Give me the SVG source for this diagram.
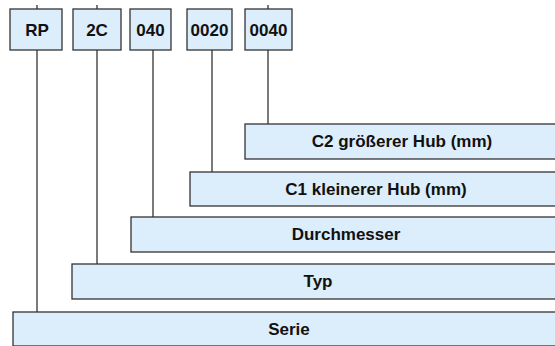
<svg xmlns="http://www.w3.org/2000/svg" width="555" height="346" viewBox="0 0 555 346">
<style>
.box{fill:#dcedfb;stroke:#333;stroke-width:1.3}
.c{fill:none;stroke:#222;stroke-width:1.2}
.t{font-family:"Liberation Sans",Arial,sans-serif;font-weight:bold;fill:#111;text-anchor:middle;dominant-baseline:central}
.s{font-size:17px}
.l{font-size:17px}
</style>
<rect width="555" height="346" fill="#fff"/>
<g id="connectors">
<path class="c" d="M37 5V9M97 5V9M268 5V9"/>
<path class="c" d="M37 50V312"/>
<path class="c" d="M97 50V264"/>
<path class="c" d="M153 50V217"/>
<path class="c" d="M212 50V172"/>
<path class="c" d="M268 50V124"/>
</g>
<g id="rp"><rect class="box" x="10" y="9" width="52" height="41"/><text class="t s" x="37" y="30">RP</text></g>
<g id="2c"><rect class="box" x="73" y="9" width="48" height="41"/><text class="t s" x="97" y="30">2C</text></g>
<g id="040"><rect class="box" x="130" y="9" width="41" height="41"/><text class="t s" x="150.5" y="30">040</text></g>
<g id="0020"><rect class="box" x="187" y="9" width="45" height="41"/><text class="t s" x="209.5" y="30">0020</text></g>
<g id="0040"><rect class="box" x="245" y="9" width="47" height="41"/><text class="t s" x="268.5" y="30">0040</text></g>
<g id="c2"><rect class="box" x="245" y="124" width="320" height="35"/><text class="t l" x="402" y="141.5">C2 größerer Hub (mm)</text></g>
<g id="c1"><rect class="box" x="190" y="172" width="375" height="34"/><text class="t l" x="376" y="189">C1 kleinerer Hub (mm)</text></g>
<g id="durchmesser"><rect class="box" x="131" y="217" width="434" height="35"/><text class="t l" x="346" y="234.5">Durchmesser</text></g>
<g id="typ"><rect class="box" x="72" y="264" width="493" height="35"/><text class="t l" x="318" y="281.5">Typ</text></g>
<g id="serie"><rect class="box" x="13" y="312" width="552" height="34"/><text class="t l" x="289" y="329">Serie</text></g>
</svg>
